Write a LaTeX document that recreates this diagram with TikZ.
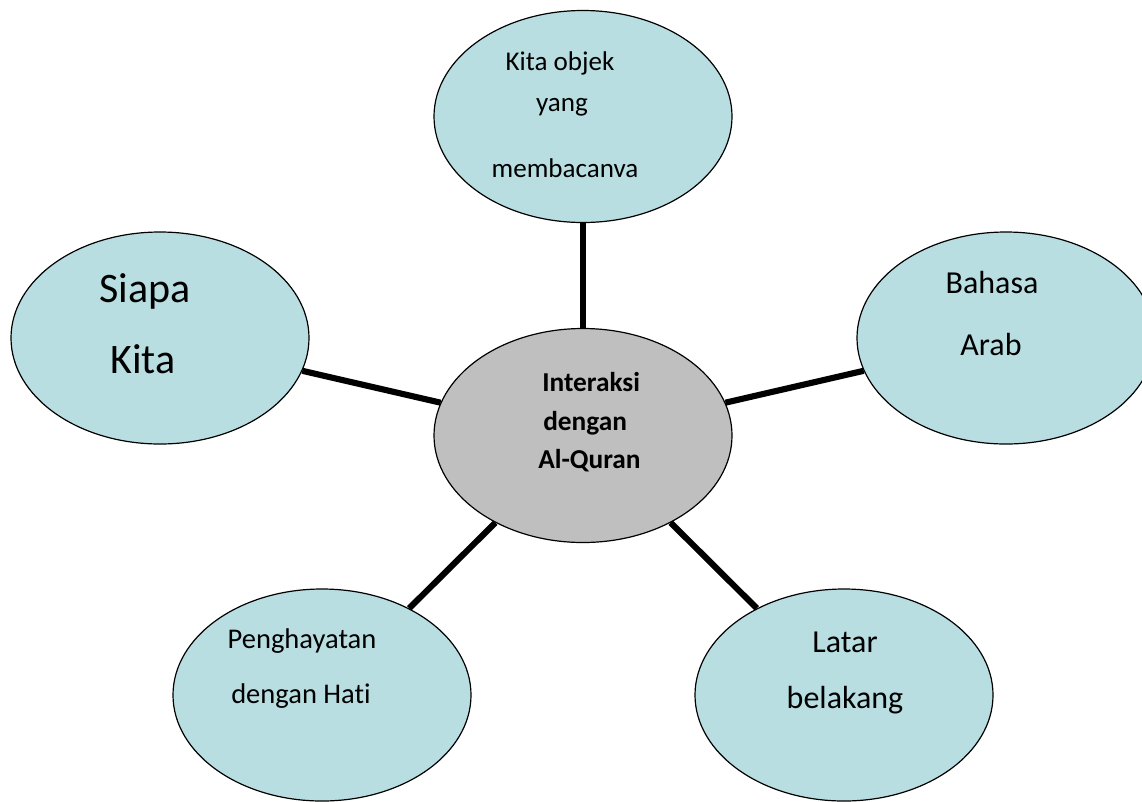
\documentclass[tikz,border=0pt]{standalone}
\usepackage{fontspec}
\setmainfont{Carlito}[Ligatures=NoCommon]
\usetikzlibrary{shapes.geometric}
\definecolor{bubble}{RGB}{184,222,226}
\definecolor{hub}{RGB}{191,191,191}
\tikzset{
  bub/.style={ellipse, draw=black, line width=0.9pt, fill=bubble, inner sep=0pt,
              minimum width=223.5pt, minimum height=159pt},
  hubnode/.style={bub, fill=hub, minimum height=160.5pt},
  link/.style={line width=4.6pt},
  lbl/.style={anchor=base, inner sep=0pt, font=\fontsize{20.3}{24}\selectfont},
  lblL/.style={lbl, font=\fontsize{24}{28}\selectfont},
  lblXL/.style={lbl, font=\fontsize{31.5}{36}\selectfont},
  lblB/.style={anchor=base west, inner sep=0pt, font=\fontsize{20.5}{24}\selectfont\bfseries}
}
\begin{document}
\begin{tikzpicture}[x=0.75pt,y=-0.75pt]
\useasboundingbox (0,0) rectangle (1142,801);
\clip (0,0) rectangle (1142,801);
\node[hubnode] (c) at (583,435.5) {};
\node[bub] (t) at (583,116.5) {};
\node[bub] (l) at (160,338) {};
\node[bub] (r) at (1006,338) {};
\node[bub] (bl) at (322,695) {};
\node[bub] (br) at (844,695) {};
\draw[link] (c) -- (t);
\draw[link] (c) -- (l);
\draw[link] (c) -- (r);
\draw[link] (c) -- (bl);
\draw[link] (c) -- (br);
% labels
\node[lbl] (t1) at (560,70) {Kita objek};
\node[lbl] (t2) at (562,111) {yang};
\node[lbl] (t3) at (565,177) {membacanva};
\node[lblXL] (l1) at (145,302) {Siapa};
\node[lblXL] (l2) at (143,373) {Kita};
\node[lblL] (r1) at (992,293) {Bahasa};
\node[lblL] (r2) at (991,355) {Arab};
\node[lbl, font=\fontsize{21.4}{26}\selectfont] (bl1) at (302,648) {Penghayatan};
\node[lbl, font=\fontsize{21.4}{26}\selectfont] (bl2) at (301,703) {dengan Hati};
\node[lblL] (br1) at (845,652) {Latar};
\node[lblL] (br2) at (845,708) {belakang};
\node[lblB] (c1) at (542,391) {Interaksi};
\node[lblB] (c2) at (543,430) {dengan};
\node[lblB] (c3) at (538,468) {Al-Quran};
\end{tikzpicture}
\end{document}
